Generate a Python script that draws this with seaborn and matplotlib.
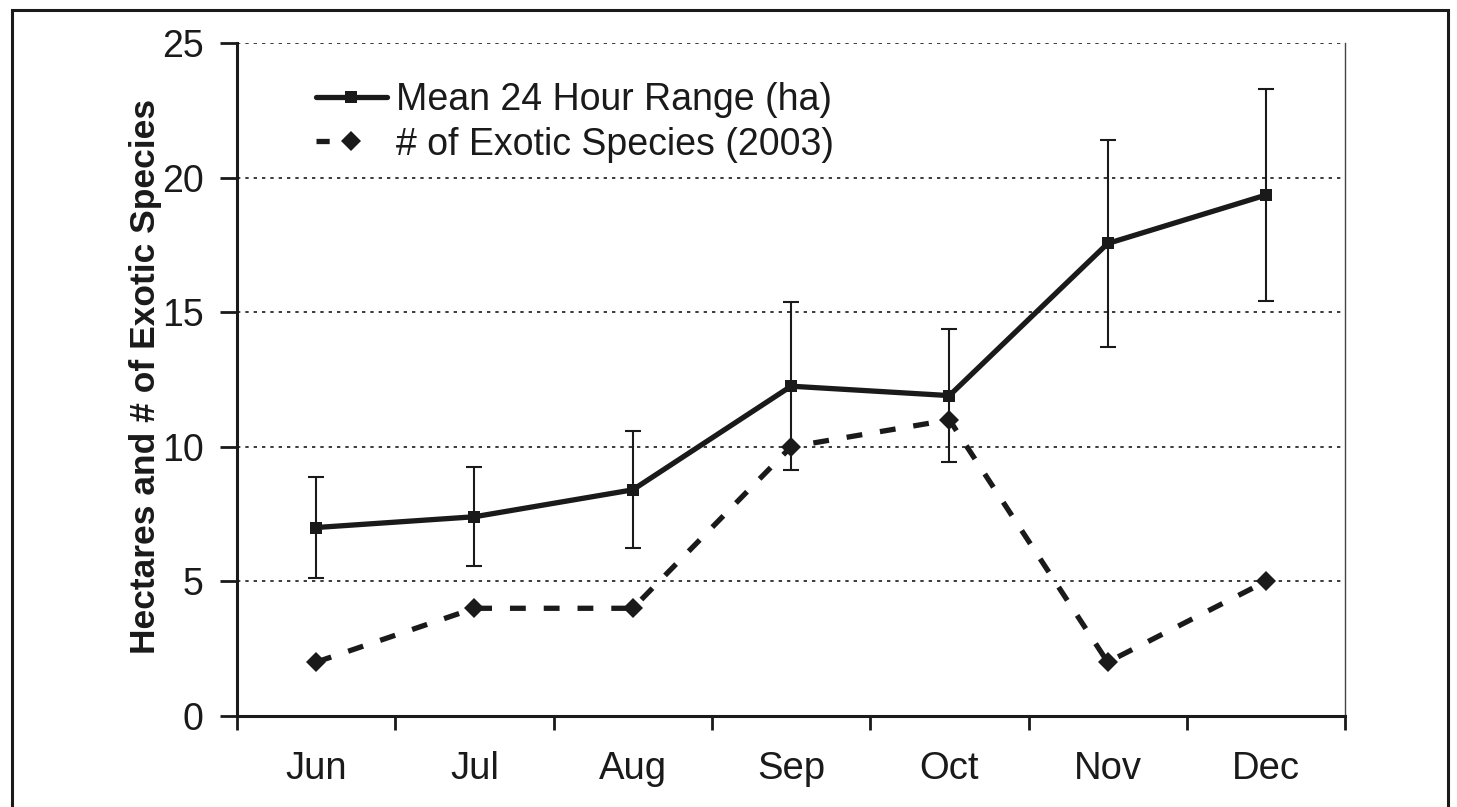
import matplotlib
matplotlib.use("Agg")
import matplotlib.pyplot as plt
import pandas as pd
import seaborn as sns
from matplotlib.patches import Rectangle
from matplotlib.ticker import FixedLocator, NullFormatter

months = ["Jun", "Jul", "Aug", "Sep", "Oct", "Nov", "Dec"]
mean_range = [7.0, 7.4, 8.4, 12.25, 11.9, 17.55, 19.35]  # ha
range_err = [1.87, 1.84, 2.17, 3.12, 2.46, 3.85, 3.95]
exotic_species = [2, 4, 4, 10, 11, 2, 5]

ink = "#1a1a1a"

sns.set_theme(style="white")
plt.rcParams["font.family"] = ["Liberation Sans", "DejaVu Sans"]

df = pd.DataFrame({"month": months, "mean_range": mean_range,
                   "range_err": range_err, "exotic": exotic_species})

fig = plt.figure(figsize=(14.57, 8.07), dpi=100)
ax = fig.add_axes([0.1627, 0.1128, 0.7605, 0.834])

ax.errorbar(df["month"], df["mean_range"], yerr=df["range_err"], fmt="none",
            ecolor=ink, elinewidth=1.5, capsize=6, capthick=1.5, zorder=3)

sns.lineplot(data=df, x="month", y="mean_range", sort=False, ax=ax, color=ink,
             lw=3.8, marker="s", markersize=8, markeredgewidth=0,
             label="Mean 24 Hour Range (ha)", zorder=4)
sns.lineplot(data=df, x="month", y="exotic", sort=False, ax=ax, color=ink,
             lw=3.8, linestyle=(0, (3.0, 3.4)), marker="D", markersize=10.5,
             markeredgewidth=0, label="# of Exotic Species (2003)", zorder=4)

ax.set_xlim(-0.5, 6.5)
ax.set_ylim(0, 25)
ax.set_yticks(range(0, 26, 5))

# tick marks sit between the months, labels centred on them
ax.xaxis.set_major_locator(FixedLocator([i - 0.5 for i in range(len(months) + 1)]))
ax.xaxis.set_major_formatter(NullFormatter())
ax.set_xticks(range(len(months)), labels=months, minor=True)
ax.tick_params(axis="x", which="minor", length=0, pad=25, labelsize=27.5, labelcolor=ink)
ax.tick_params(axis="x", which="major", length=10, width=2, direction="out", color=ink)
ax.tick_params(axis="y", length=12, width=2, direction="out", pad=12,
               labelsize=27, color=ink, labelcolor=ink)
ax.tick_params(left=True, bottom=True)

ax.yaxis.grid(True, linestyle=(0, (2, 3)), color=ink, lw=1.2)
ax.xaxis.grid(False)

ax.spines["top"].set_visible(False)
ax.spines["right"].set_linewidth(1.0)
ax.spines["right"].set_color("#444444")
for side in ["left", "bottom"]:
    ax.spines[side].set_linewidth(2.2)
    ax.spines[side].set_color(ink)

ax.set_xlabel("")
ax.set_ylabel("Hectares and # of Exotic Species", fontsize=25.5,
              fontweight="bold", color=ink)
ax.yaxis.set_label_coords(-0.068, 0.504)

leg = ax.legend(loc="upper left", bbox_to_anchor=(0.071, 0.942), frameon=False,
                fontsize=27, handlelength=1.9, handletextpad=0.25, labelspacing=0.23,
                borderpad=0, borderaxespad=0, labelcolor=ink)
leg.get_lines()[1].set_linestyle((0, (2.5, 20)))  # short dash then the diamond, as in the original key

fig.add_artist(Rectangle((12 / 1457, -0.05), (1448 - 12) / 1457, 1 - 10 / 807 + 0.05,
                         transform=fig.transFigure, fill=False, lw=2.2, ec=ink))

fig.savefig("out.png", dpi=100)
